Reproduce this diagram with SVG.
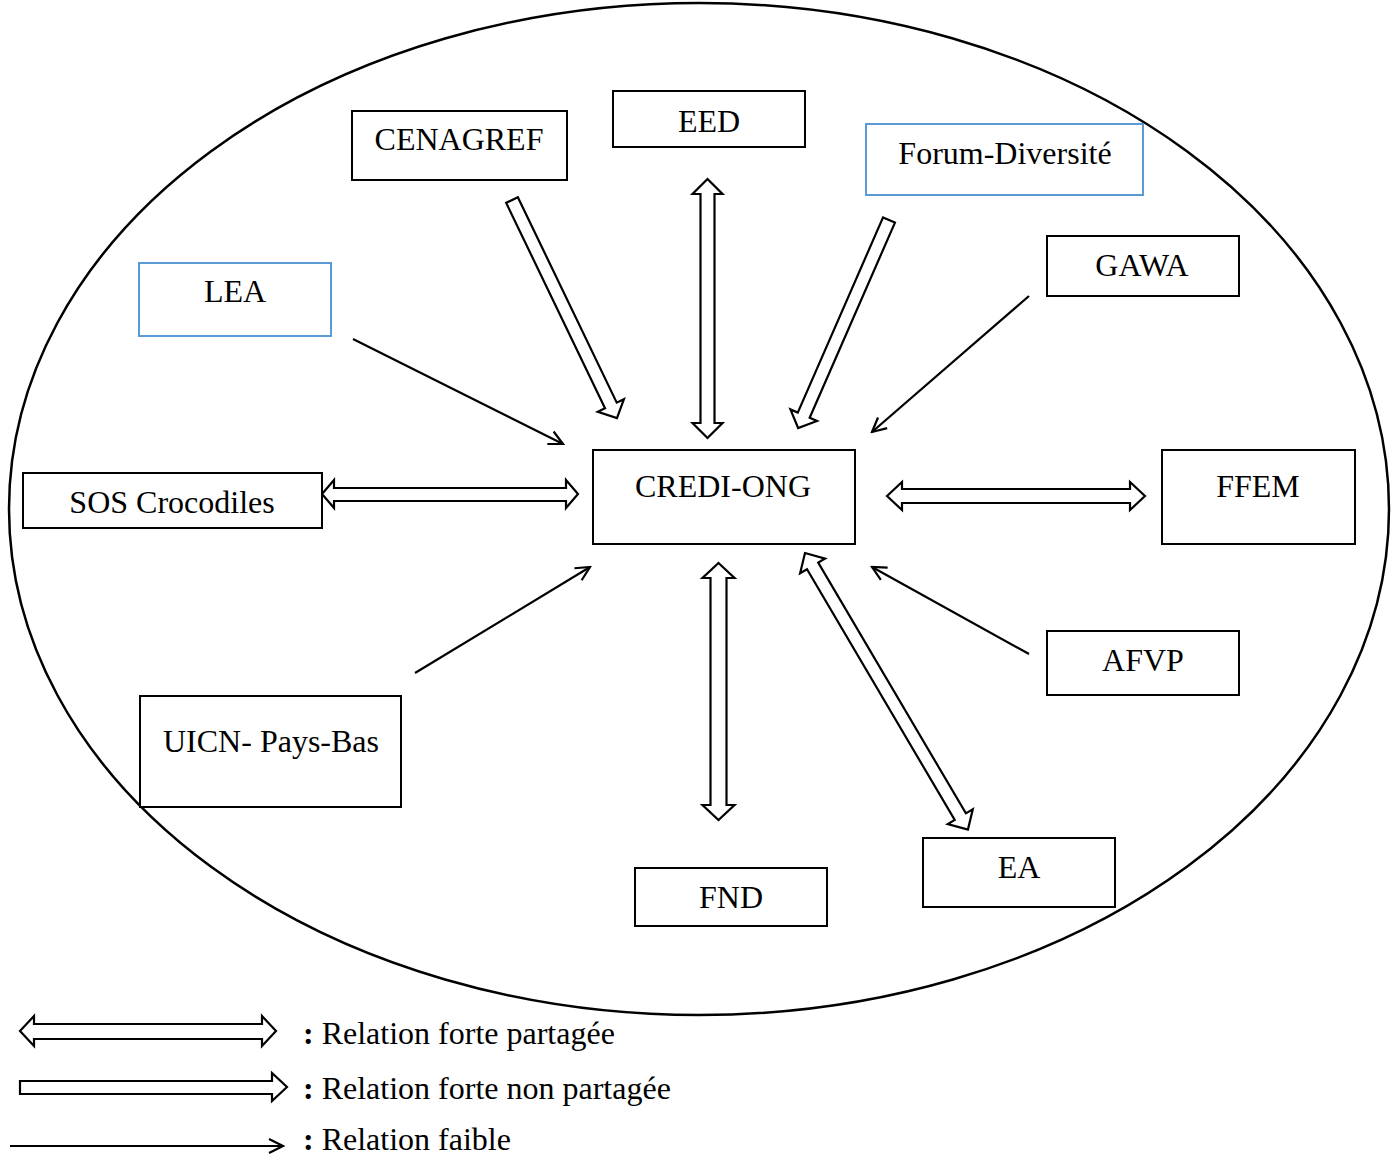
<svg xmlns="http://www.w3.org/2000/svg" width="1398" height="1157" viewBox="0 0 1398 1157">
<style>
.box{fill:#fff;stroke:#000;stroke-width:2}
.blue{stroke:#5b9bd5}
.lbl{font-family:"Liberation Serif","Times New Roman",serif;font-size:32px;fill:#000;text-anchor:middle}
.leg{font-family:"Liberation Serif","Times New Roman",serif;font-size:32px;fill:#000}
.block{fill:#fff;stroke:#000;stroke-width:2.2;stroke-linejoin:miter}
.thin{fill:none;stroke:#000;stroke-width:2.2}
</style>
<defs>
<marker id="open" markerUnits="userSpaceOnUse" markerWidth="18" markerHeight="18" viewBox="0 0 18 18" refX="16" refY="9" orient="auto">
<path d="M2,2 L16,9 L2,16" fill="none" stroke="#000" stroke-width="2.2"/>
</marker>
</defs>
<rect width="1398" height="1157" fill="#fff"/>
<ellipse cx="699" cy="509" rx="690" ry="506" fill="none" stroke="#000" stroke-width="2.5"/>

<g id="connectors">
<!-- CENAGREF -> CREDI (strong unshared) -->
<polygon class="block" transform="translate(512,200) rotate(64.3)" points="0,-6.5 228,-6.5 228,-14.5 242,0 228,14.5 228,6.5 0,6.5"/>
<!-- Forum -> CREDI -->
<polygon class="block" transform="translate(889,220) rotate(113.6)" points="0,-6.5 213,-6.5 213,-14.5 227,0 213,14.5 213,6.5 0,6.5"/>
<!-- EED <-> CREDI -->
<polygon class="block" transform="translate(707.5,179) rotate(90)" points="0,0 15,-15 15,-7 244,-7 244,-15 259,0 244,15 244,7 15,7 15,15"/>
<!-- FND <-> CREDI -->
<polygon class="block" transform="translate(718.5,563) rotate(90)" points="0,0 15,-16 15,-8 242,-8 242,-16 257,0 242,16 242,8 15,8 15,16"/>
<!-- SOS <-> CREDI -->
<polygon class="block" points="322,494 334,480 334,488 566,488 566,480 578,494 566,508 566,501 334,501 334,508"/>
<!-- CREDI <-> FFEM -->
<polygon class="block" points="887,496 902,482 902,489 1130,489 1130,482 1145,496 1130,510 1130,503 902,503 902,510"/>
<!-- CREDI <-> EA -->
<polygon class="block" transform="translate(805,553) rotate(59.5)" points="0,0 15,-14.5 15,-6.5 306,-6.5 306,-14.5 321,0 306,14.5 306,6.5 15,6.5 15,14.5"/>
<!-- weak relations -->
<line class="thin" x1="353" y1="339" x2="563" y2="444" marker-end="url(#open)"/>
<line class="thin" x1="1029" y1="296" x2="872" y2="432" marker-end="url(#open)"/>
<line class="thin" x1="415" y1="673" x2="590" y2="567" marker-end="url(#open)"/>
<line class="thin" x1="1029" y1="654" x2="872" y2="567" marker-end="url(#open)"/>
</g>

<g id="CENAGREF"><rect class="box" x="352" y="111" width="215" height="69"/><text class="lbl" x="459" y="150">CENAGREF</text></g>
<g id="EED"><rect class="box" x="613" y="91" width="192" height="56"/><text class="lbl" x="709" y="132">EED</text></g>
<g id="Forum-Diversite"><rect class="box blue" x="866" y="124" width="277" height="71"/><text class="lbl" x="1005" y="164">Forum-Diversité</text></g>
<g id="LEA"><rect class="box blue" x="139" y="263" width="192" height="73"/><text class="lbl" x="235" y="302">LEA</text></g>
<g id="GAWA"><rect class="box" x="1047" y="236" width="192" height="60"/><text class="lbl" x="1142" y="276">GAWA</text></g>
<g id="SOS-Crocodiles"><rect class="box" x="23" y="473" width="299" height="55"/><text class="lbl" x="172" y="513">SOS Crocodiles</text></g>
<g id="CREDI-ONG"><rect class="box" x="593" y="450" width="262" height="94"/><text class="lbl" x="723" y="497">CREDI-ONG</text></g>
<g id="FFEM"><rect class="box" x="1162" y="450" width="193" height="94"/><text class="lbl" x="1258" y="497">FFEM</text></g>
<g id="AFVP"><rect class="box" x="1047" y="631" width="192" height="64"/><text class="lbl" x="1143" y="671">AFVP</text></g>
<g id="UICN-Pays-Bas"><rect class="box" x="140" y="696" width="261" height="111"/><text class="lbl" x="271" y="752">UICN- Pays-Bas</text></g>
<g id="EA"><rect class="box" x="923" y="838" width="192" height="69"/><text class="lbl" x="1019" y="878">EA</text></g>
<g id="FND"><rect class="box" x="635" y="868" width="192" height="58"/><text class="lbl" x="731" y="908">FND</text></g>

<g id="legend">
<polygon class="block" points="20,1031 34,1016 34,1024 262,1024 262,1016 276,1031 262,1046 262,1039 34,1039 34,1046"/>
<polygon class="block" points="20,1081 272,1081 272,1073 287,1087 272,1101 272,1094 20,1094"/>
<line class="thin" x1="10" y1="1146" x2="283" y2="1146" marker-end="url(#open)"/>
<text class="leg" x="303" y="1044"><tspan font-weight="bold">:</tspan> Relation forte partagée</text>
<text class="leg" x="303" y="1099"><tspan font-weight="bold">:</tspan> Relation forte non partagée</text>
<text class="leg" x="303" y="1150"><tspan font-weight="bold">:</tspan> Relation faible</text>
</g>
</svg>
